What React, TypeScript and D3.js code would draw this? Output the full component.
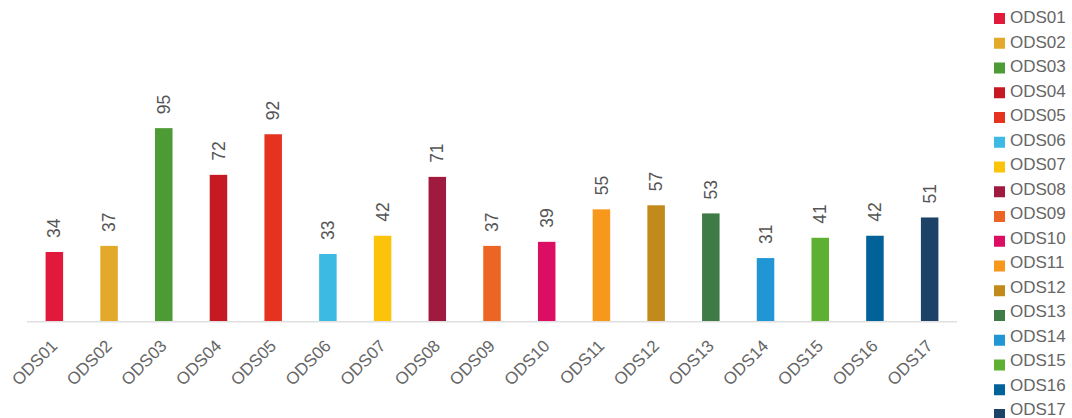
import React, { useEffect, useRef } from "react";
import * as d3 from "d3";

const categories = [
  "ODS01", "ODS02", "ODS03", "ODS04", "ODS05", "ODS06", "ODS07", "ODS08", "ODS09",
  "ODS10", "ODS11", "ODS12", "ODS13", "ODS14", "ODS15", "ODS16", "ODS17",
];
const values = [34, 37, 95, 72, 92, 33, 42, 71, 37, 39, 55, 57, 53, 31, 41, 42, 51];
const colors = [
  "#E1193A", "#E2A92B", "#4C9B35", "#C51924", "#E6331F", "#3DBAE4", "#FCC30B",
  "#A0193F", "#EC6524", "#DC0E63", "#F7981D", "#C28A1A", "#3E7B47", "#2196D5",
  "#5EB033", "#01629A", "#1D4267",
];

const W = 1072;
const H = 418;
const FONT = "'Liberation Sans', Arial, Helvetica, sans-serif";

export default function App() {
  const ref = useRef<SVGSVGElement>(null);

  useEffect(() => {
    drawChart();
  }, []);

  function drawChart() {
    const svg = d3.select(ref.current);
    svg.selectAll("*").remove();

    const x = d3
      .scaleBand()
      .domain(categories)
      .range([27, 957])
      .paddingInner(0.68)
      .paddingOuter(0.34);
    const y = d3.scaleLinear().domain([0, 100]).range([321, 118]);
    const color = d3.scaleOrdinal<string, string>().domain(categories).range(colors);
    const data = categories.map((c, i) => ({ cat: c, value: values[i] }));

    // bars
    svg
      .append("g")
      .selectAll("rect")
      .data(data)
      .join("rect")
      .attr("x", (d) => x(d.cat)!)
      .attr("y", (d) => y(d.value))
      .attr("width", x.bandwidth())
      .attr("height", (d) => y(0) - y(d.value))
      .attr("fill", (d) => color(d.cat));

    // baseline
    svg
      .append("line")
      .attr("x1", 27)
      .attr("x2", 957)
      .attr("y1", y(0) + 0.75)
      .attr("y2", y(0) + 0.75)
      .attr("stroke", "#e0e0e0")
      .attr("stroke-width", 1.5);

    // value labels
    svg
      .append("g")
      .selectAll("text")
      .data(data)
      .join("text")
      .attr("transform", (d) => `translate(${x(d.cat)! + x.bandwidth() / 2},${y(d.value) - 14}) rotate(-90)`)
      .attr("dy", "0.35em")
      .attr("font-family", FONT)
      .attr("font-size", 17.5)
      .attr("fill", "#555")
      .text((d) => d.value);

    // x labels
    svg
      .append("g")
      .selectAll("text")
      .data(categories)
      .join("text")
      .attr("transform", (d) => `translate(${x(d)! + x.bandwidth() / 2 + 4},347) rotate(-45)`)
      .attr("text-anchor", "end")
      .attr("font-family", FONT)
      .attr("font-size", 17)
      .attr("fill", "#666")
      .text((d) => d);

    // legend
    const sqY = d3.scalePoint().domain(categories).range([13, 409]);
    const txY = d3.scalePoint().domain(categories).range([23, 415]);
    const leg = svg.append("g");
    leg
      .selectAll("rect")
      .data(categories)
      .join("rect")
      .attr("x", 994)
      .attr("y", (d) => sqY(d)!)
      .attr("width", 11)
      .attr("height", 11)
      .attr("fill", (d) => color(d));
    leg
      .selectAll("text")
      .data(categories)
      .join("text")
      .attr("x", 1010)
      .attr("y", (d) => txY(d)!)
      .attr("font-family", FONT)
      .attr("font-size", 17)
      .attr("fill", "#666")
      .text((d) => d);
  }

  return (
    <svg
      ref={ref}
      width={W}
      height={H}
      style={{ position: "absolute", left: 0, top: 0, background: "#fff" }}
    />
  );
}
